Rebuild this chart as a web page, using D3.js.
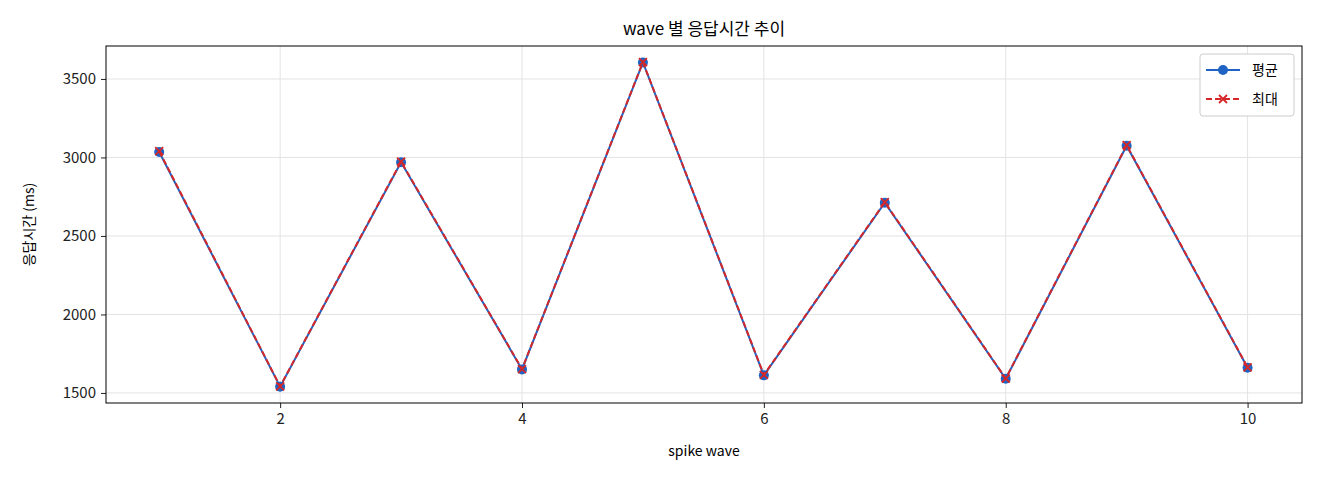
<!DOCTYPE html><html><head><meta charset="utf-8"><script src="https://cdn.jsdelivr.net/npm/d3@7"></script>
<style>body{margin:0;background:#fff}text{font-family:"Noto Sans CJK KR","DejaVu Sans",sans-serif}</style></head><body>
<svg id="c" width="1320" height="480"></svg>
<script>
const waves=[1,2,3,4,5,6,7,8,9,10];
const avgMs=[3035,1540,2970,1650,3605,1612,2712,1590,3075,1660];
const maxMs=[3040,1542,2973,1652,3607,1615,2715,1592,3078,1663];
const xTicks=[2,4,6,8,10];
const yTicks=[1500,2000,2500,3000,3500];
const L=106,R=1302,T=46,B=403;
const svg=d3.select("#c");
const x=d3.scaleLinear().domain([0.56,10.45]).range([L,R]);
const y=d3.scaleLinear().domain([1436,3710]).range([B,T]);
const g=svg.append("g");
g.selectAll(".gx").data(xTicks).join("line").attr("x1",d=>x(d)).attr("x2",d=>x(d)).attr("y1",T).attr("y2",B).attr("stroke","#e3e3e3");
g.selectAll(".gy").data(yTicks).join("line").attr("y1",d=>y(d)).attr("y2",d=>y(d)).attr("x1",L).attr("x2",R).attr("stroke","#e3e3e3");
const xa=svg.append("g").attr("transform",`translate(0,${B})`).call(d3.axisBottom(x).tickValues(xTicks).tickFormat(d3.format("d")).tickSize(5).tickPadding(5));
const ya=svg.append("g").attr("transform",`translate(${L},0)`).call(d3.axisLeft(y).tickValues(yTicks).tickFormat(d3.format("d")).tickSize(5).tickPadding(5));
[xa,ya].forEach(a=>{a.select(".domain").remove();a.selectAll("text").attr("font-size",15).attr("fill","#222").style("font-family",'"Noto Sans CJK KR"');a.selectAll("line").attr("stroke","#222")});
svg.append("rect").attr("x",L).attr("y",T).attr("width",R-L).attr("height",B-T).attr("fill","none").attr("stroke","#000");
const line=d3.line().x((d,i)=>x(waves[i])).y(d=>y(d));
svg.append("path").attr("d",line(avgMs)).attr("fill","none").attr("stroke","#1f63c4").attr("stroke-width",2);
svg.selectAll(".pa").data(avgMs).join("circle").attr("cx",(d,i)=>x(waves[i])).attr("cy",d=>y(d)).attr("r",5).attr("fill","#1f63c4");
svg.append("path").attr("d",line(maxMs)).attr("fill","none").attr("stroke","#d62728").attr("stroke-width",2).attr("stroke-dasharray","6,3");
const cross=(s,cx,cy)=>s.append("path").attr("d",`M${cx-4},${cy-4}L${cx+4},${cy+4}M${cx-4},${cy+4}L${cx+4},${cy-4}`).attr("stroke","#d62728").attr("stroke-width",1.8);
maxMs.forEach((d,i)=>cross(svg,x(waves[i]),y(d)));
svg.append("text").attr("x",(L+R)/2).attr("y",35).attr("text-anchor","middle").attr("font-size",17).text("wave 별 응답시간 추이");
svg.append("text").attr("x",(L+R)/2).attr("y",456).attr("text-anchor","middle").attr("font-size",14).text("spike wave");
svg.append("text").attr("transform",`translate(34,${(T+B)/2}) rotate(-90)`).attr("text-anchor","middle").attr("font-size",14).text("응답시간 (ms)");
const lg=svg.append("g");
lg.append("rect").attr("x",1200).attr("y",54).attr("width",94).attr("height",62).attr("rx",3).attr("fill","#fff").attr("stroke","#ccc");
lg.append("line").attr("x1",1206).attr("x2",1240).attr("y1",70).attr("y2",70).attr("stroke","#1f63c4").attr("stroke-width",2);
lg.append("circle").attr("cx",1223).attr("cy",70).attr("r",5).attr("fill","#1f63c4");
lg.append("text").attr("x",1252).attr("y",75).attr("font-size",14).text("평균");
lg.append("line").attr("x1",1206).attr("x2",1240).attr("y1",99).attr("y2",99).attr("stroke","#d62728").attr("stroke-width",2).attr("stroke-dasharray","6,3");
cross(lg,1223,99);
lg.append("text").attr("x",1252).attr("y",104).attr("font-size",14).text("최대");
</script></body></html>
